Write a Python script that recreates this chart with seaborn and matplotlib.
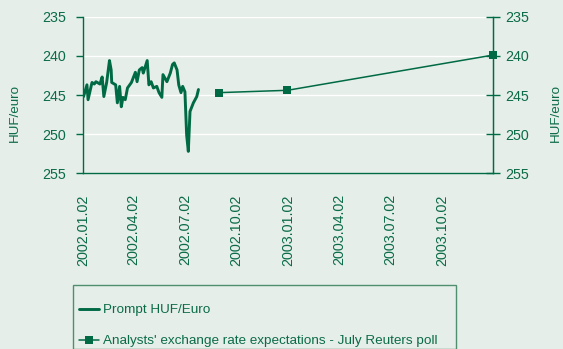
import matplotlib
matplotlib.use("Agg")
import matplotlib.pyplot as plt
import matplotlib.dates as mdates
from matplotlib.patches import Rectangle
from matplotlib.lines import Line2D
import seaborn as sns
import pandas as pd

# Prompt HUF/EUR rate (inverted scale: stronger forint is higher)
spot_dates = [
    "2002-01-03", "2002-01-09", "2002-01-11", "2002-01-18", "2002-01-22",
    "2002-01-25", "2002-02-01", "2002-02-05", "2002-02-08", "2002-02-13",
    "2002-02-18", "2002-02-21", "2002-02-22", "2002-03-01", "2002-03-04",
    "2002-03-08", "2002-03-11", "2002-03-14", "2002-03-18", "2002-03-22",
    "2002-03-29", "2002-04-05", "2002-04-08", "2002-04-12", "2002-04-17",
    "2002-04-19", "2002-04-26", "2002-04-29", "2002-05-03", "2002-05-07",
    "2002-05-13", "2002-05-17", "2002-05-22", "2002-05-24", "2002-05-31",
    "2002-06-06", "2002-06-10", "2002-06-13", "2002-06-18", "2002-06-21",
    "2002-06-25", "2002-06-28", "2002-07-02", "2002-07-05", "2002-07-08",
    "2002-07-11", "2002-07-17", "2002-07-23", "2002-07-26",
]
spot_values = [
    245.2, 243.7, 245.6, 243.4, 243.6,
    243.3, 243.6, 242.7, 245.2, 243.4,
    240.6, 241.8, 243.4, 243.7, 246.0,
    243.9, 246.5, 245.3, 245.6, 244.1,
    243.4, 242.1, 243.3, 241.8, 241.5,
    242.2, 240.6, 243.7, 243.3, 244.1,
    243.9, 244.7, 245.3, 242.4, 243.3,
    242.2, 241.1, 240.9, 241.8, 243.7,
    244.7, 243.9, 244.6, 250.1, 252.2,
    247.1, 246.0, 245.2, 244.3,
]

# Analysts' expectations (July Reuters poll)
poll_dates = ["2002-08-31", "2002-12-31", "2003-12-31"]
poll_values = [244.7, 244.4, 239.9]

y_ticks = [235, 240, 245, 250, 255]
x_tick_dates = ["2002-01-02", "2002-04-02", "2002-07-02", "2002-10-02",
                "2003-01-02", "2003-04-02", "2003-07-02", "2003-10-02"]

spot = pd.DataFrame({"date": pd.to_datetime(spot_dates), "rate": spot_values})
poll = pd.DataFrame({"date": pd.to_datetime(poll_dates), "rate": poll_values})

BG = "#e5eee9"
GREEN = "#006a45"
TEXT = "#0b6b47"

sns.set_style("white", {"axes.facecolor": BG, "figure.facecolor": BG})
plt.rcParams["font.family"] = ["Liberation Sans", "DejaVu Sans"]

W, H = 563, 349
fig = plt.figure(figsize=(W / 100, H / 100), dpi=100)
fig.patch.set_facecolor(BG)
ax = fig.add_axes([83 / W, 1 - 173.3 / H, (493 - 83) / W, (173.3 - 16.7) / H])
ax.set_facecolor(BG)

sns.lineplot(data=spot, x="date", y="rate", ax=ax, color=GREEN, lw=2.1,
             label="Prompt HUF/Euro", legend=False)
sns.lineplot(data=poll, x="date", y="rate", ax=ax, color=GREEN, lw=1.1,
             marker="s", markersize=5.5, markeredgewidth=0, clip_on=False,
             label="Analysts' exchange rate expectations - July Reuters poll",
             legend=False)

ax.set_xlim(pd.Timestamp("2002-01-02"), pd.Timestamp("2003-12-31"))
ax.set_ylim(255, 235)
ax.set_yticks(y_ticks)
ax.set_xticks(pd.to_datetime(x_tick_dates))
ax.xaxis.set_major_formatter(mdates.DateFormatter("%Y.%m.%d"))
ax.set_xlabel("")
ax.set_ylabel("")

ax.grid(axis="y", color="white", lw=1.0)
ax.grid(axis="x", visible=False)
ax.spines["top"].set_visible(False)
for side in ["left", "bottom", "right"]:
    ax.spines[side].set_color(GREEN)
    ax.spines[side].set_linewidth(1.0)

ax.tick_params(axis="y", direction="out", length=5, width=1, color=GREEN,
               labelcolor=TEXT, labelsize=10.3, pad=7)
ax.tick_params(axis="x", direction="out", length=5, width=1, color=GREEN,
               labelcolor=TEXT, labelsize=10.4, pad=10, labelrotation=90)

ax2 = ax.twinx()
ax2.set_ylim(255, 235)
ax2.set_yticks(y_ticks)
ax2.tick_params(axis="y", direction="inout", length=10, width=1, color=GREEN,
                labelcolor=TEXT, labelsize=10.3, pad=4)
for side in ["top", "left", "bottom"]:
    ax2.spines[side].set_visible(False)
ax2.spines["right"].set_color(GREEN)
ax2.grid(False)

fig.text(15 / W, 1 - 113.5 / H, "HUF/euro", rotation=90, ha="center",
         va="center", color=TEXT, fontsize=9.6)
fig.text(556 / W, 1 - 113.5 / H, "HUF/euro", rotation=90, ha="center",
         va="center", color=TEXT, fontsize=9.6)

# legend box
fig.add_artist(Rectangle((73 / W, 0), (456 - 73) / W, 1 - 285 / H,
                         transform=fig.transFigure, facecolor="none",
                         edgecolor="#4f8f70", lw=1.0, clip_on=False))
handles = [
    Line2D([], [], color=GREEN, lw=2.1),
    Line2D([], [], color=GREEN, lw=1.1, marker="s", markersize=5.5,
           markeredgewidth=0),
]
labels = ["Prompt HUF/Euro",
          "Analysts' exchange rate expectations - July Reuters poll"]
leg = fig.legend(handles, labels, loc="upper left",
                 bbox_to_anchor=(79 / W, 1 - 304 / H), frameon=False,
                 borderpad=0, borderaxespad=0, handlelength=1.5,
                 handletextpad=0.25, labelspacing=1.37, fontsize=9.7)
for t in leg.get_texts():
    t.set_color(TEXT)

fig.savefig("out.png", dpi=100, facecolor=BG)
